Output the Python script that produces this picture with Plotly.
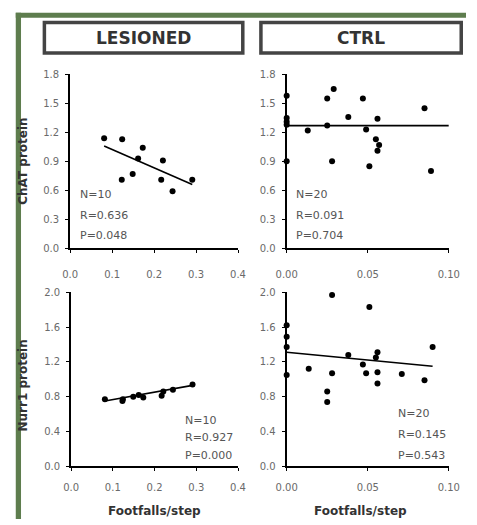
import plotly.graph_objects as go

W, H = 477, 525

# ---- data -------------------------------------------------------------
groups = ["LESIONED", "CTRL"]

les_footfalls = [0.081, 0.124, 0.173, 0.162, 0.221, 0.123, 0.149, 0.217, 0.244, 0.291]
les_chat = [1.14, 1.13, 1.04, 0.93, 0.91, 0.71, 0.77, 0.71, 0.59, 0.71]

les_nurr_footfalls = [0.081, 0.123, 0.124, 0.149, 0.162, 0.173, 0.217, 0.221, 0.244, 0.291]
les_nurr = [0.77, 0.75, 0.77, 0.80, 0.82, 0.79, 0.81, 0.86, 0.88, 0.94]

ctrl_chat_footfalls = [0.0, 0.0, 0.0, 0.0, 0.0, 0.013, 0.025, 0.029, 0.025, 0.028,
                       0.038, 0.047, 0.049, 0.051, 0.056, 0.055, 0.057, 0.056, 0.085, 0.089]
ctrl_chat = [1.58, 1.35, 1.31, 1.28, 0.90, 1.22, 1.55, 1.65, 1.27, 0.90,
             1.36, 1.55, 1.23, 0.85, 1.34, 1.13, 1.07, 1.01, 1.45, 0.80]

ctrl_nurr_footfalls = [0.0, 0.0, 0.0, 0.0, 0.0136, 0.028, 0.025, 0.025, 0.028, 0.038,
                       0.047, 0.049, 0.051, 0.056, 0.055, 0.056, 0.056, 0.071, 0.085, 0.090]
ctrl_nurr = [1.62, 1.49, 1.37, 1.05, 1.12, 1.97, 0.86, 0.74, 1.07, 1.28,
             1.17, 1.07, 1.83, 1.31, 1.25, 1.08, 0.95, 1.06, 0.99, 1.37]

# linear trend lines: x extent and fitted y at each end
trend_x = [(0.081, 0.291), (0.0, 0.10), (0.081, 0.291), (0.0, 0.090)]
trend_y = [(1.06, 0.66), (1.27, 1.27), (0.75, 0.93), (1.31, 1.15)]

stats_n = ["N=10", "N=20", "N=10", "N=20"]
stats_r = ["R=0.636", "R=0.091", "R=0.927", "R=0.145"]
stats_p = ["P=0.048", "P=0.704", "P=0.000", "P=0.543"]

y_titles = ["ChAT protein", "Nurr1 protein"]
x_title = "Footfalls/step"

# ---- layout helpers ----------------------------------------------------
def px(x):
    return x / W


def py(y):
    return 1 - y / H


panels = [
    # (x data, y data, x px range, y px range, x range, y range, y dtick, x dtick, x fmt)
    (les_footfalls, les_chat, (62, 238), (70, 248), [0, 0.4], [0, 1.8], 0.3, 0.1, ".1f"),
    (ctrl_chat_footfalls, ctrl_chat, (289, 459), (70, 248), [0, 0.1], [0, 1.8], 0.3, 0.05, ".2f"),
    (les_nurr_footfalls, les_nurr, (63, 238), (293, 471), [0, 0.4], [0, 2.0], 0.4, 0.1, ".1f"),
    (ctrl_nurr_footfalls, ctrl_nurr, (289, 459), (293, 471), [0, 0.1], [0, 2.0], 0.4, 0.05, ".2f"),
]

fig = go.Figure()
TICK_FONT = dict(family="DejaVu Sans", size=10, color="#6a6a6a")

for i, (xs, ys, xpx, ypx, xr, yr, ydt, xdt, xfmt) in enumerate(panels):
    k = "" if i == 0 else str(i + 1)
    xa, ya = "x" + k, "y" + k

    fig.add_trace(go.Scatter(
        x=xs, y=ys, mode="markers", xaxis=xa, yaxis=ya,
        marker=dict(size=6, color="black"), cliponaxis=False, showlegend=False,
    ))

    fig.add_trace(go.Scatter(
        x=list(trend_x[i]), y=list(trend_y[i]),
        mode="lines", xaxis=xa, yaxis=ya, cliponaxis=False,
        line=dict(color="black", width=1.6), showlegend=False,
    ))

    top_row = i < 2
    fig.update_layout(**{
        "xaxis" + k: dict(
            domain=[px(xpx[0]), px(xpx[1])], range=xr, anchor=ya,
            dtick=xdt, tick0=0, tickformat=xfmt, showgrid=False, zeroline=False,
            showline=True, linecolor="black", linewidth=2,
            ticks="outside", ticklen=3, tickcolor="black",
            tickfont=TICK_FONT, ticklabelstandoff=13 if top_row else 8,
        ),
        "yaxis" + k: dict(
            domain=[py(ypx[1]), py(ypx[0])], range=yr, anchor=xa,
            dtick=ydt, tick0=0, tickformat=".1f", showgrid=False, zeroline=False,
            showline=True, linecolor="black", linewidth=2,
            ticks="outside", ticklen=3, tickcolor="black",
            tickfont=TICK_FONT, ticklabelstandoff=4,
        ),
    })

    # N / R / P annotation block
    if i == 0:
        lx, rows = 70, (193, 214, 235)
    elif i == 1:
        lx, rows = 297, (193, 214, 235)
    elif i == 2:
        lx, rows = 180, (424, 442, 460)
    else:
        lx, rows = 404, (417, 439, 460)
    for txt, ry in zip((stats_n[i], stats_r[i], stats_p[i]), rows):
        fig.add_annotation(
            x=px(lx), y=py(ry), xref="paper", yref="paper", text=txt,
            showarrow=False, xanchor="left", yanchor="middle",
            font=dict(family="DejaVu Sans", size=11, color="#555555"),
        )

# axis titles
AX_FONT = dict(family="DejaVu Sans", size=12, color="#333333")
for title, yc in zip(y_titles, (159, 388)):
    fig.add_annotation(
        x=px(13), y=py(yc), xref="paper", yref="paper", text="<b>%s</b>" % title,
        textangle=-90, showarrow=False, xanchor="center", yanchor="middle", font=AX_FONT,
    )
for xc in (150, 366):
    fig.add_annotation(
        x=px(xc), y=py(517), xref="paper", yref="paper", text="<b>%s</b>" % x_title,
        showarrow=False, xanchor="center", yanchor="middle", font=AX_FONT,
    )

# group header boxes
shapes = []
for (bx0, bx1), label in zip(((35, 243), (262, 472)), groups):
    shapes.append(dict(
        type="rect", xref="paper", yref="paper",
        x0=px(bx0), x1=px(bx1), y0=py(48), y1=py(17),
        line=dict(color="#444444", width=3.5), fillcolor="white", layer="below",
    ))
    fig.add_annotation(
        x=px((bx0 + bx1) / 2), y=py(33), xref="paper", yref="paper",
        text="<b>%s</b>" % label, showarrow=False, xanchor="center", yanchor="middle",
        font=dict(family="DejaVu Sans", size=17, color="#333333"),
    )

# green frame along top and left edges
FRAME = "#5e7d4e"
shapes.append(dict(type="rect", xref="paper", yref="paper",
                   x0=px(5), x1=1, y0=py(12), y1=py(7),
                   line=dict(width=0), fillcolor=FRAME, layer="above"))
shapes.append(dict(type="rect", xref="paper", yref="paper",
                   x0=px(5), x1=px(10.5), y0=0, y1=py(7),
                   line=dict(width=0), fillcolor=FRAME, layer="above"))

fig.update_layout(
    width=W, height=H, margin=dict(l=0, r=0, t=0, b=0),
    paper_bgcolor="white", plot_bgcolor="white", shapes=shapes,
)

fig.write_html("out.html")
